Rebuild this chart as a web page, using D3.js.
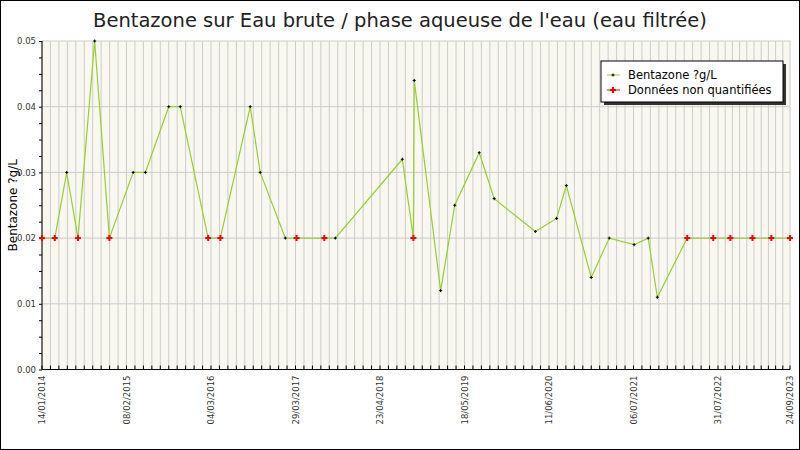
<!DOCTYPE html>
<html><head><meta charset="utf-8">
<script src="https://cdn.jsdelivr.net/npm/d3@7"></script>
<style>body{margin:0;background:#fff}svg{display:block}text{font-family:"DejaVu Sans",sans-serif}</style>
</head><body><svg id="c" width="800" height="450"></svg>
<script>
const dates = ["2014-01-14","2014-03-14","2014-05-08","2014-06-29","2014-09-14","2014-11-21","2015-03-11","2015-05-06","2015-08-22","2015-10-14","2016-02-20","2016-04-16","2016-09-01","2016-10-17","2017-02-10","2017-04-03","2017-08-09","2017-09-29","2018-08-04","2018-09-24","2018-09-28","2019-01-28","2019-04-03","2019-07-25","2019-10-02","2020-04-09","2020-07-16","2020-08-30","2020-12-23","2021-03-16","2021-07-09","2021-09-12","2021-10-24","2022-03-11","2022-07-09","2022-10-11","2023-02-17","2023-06-07","2023-09-24"];
const values = [0.02,0.02,0.03,0.02,0.05,0.02,0.03,0.03,0.04,0.04,0.02,0.02,0.04,0.03,0.02,0.02,0.02,0.02,0.032,0.02,0.044,0.012,0.025,0.033,0.026,0.021,0.023,0.028,0.014,0.02,0.019,0.02,0.011,0.02,0.02,0.02,0.02,0.02,0.02];
const nonQuant = [1,1,0,1,0,1,0,0,0,0,1,1,0,0,0,1,1,0,0,1,0,0,0,0,0,0,0,0,0,0,0,0,0,1,1,1,1,1,1];
const tickDates = ["2014-01-14","2015-02-08","2016-03-04","2017-03-29","2018-04-23","2019-05-18","2020-06-11","2021-07-06","2022-07-31","2023-09-24"];
const tickLabels = ["14/01/2014","08/02/2015","04/03/2016","29/03/2017","23/04/2018","18/05/2019","11/06/2020","06/07/2021","31/07/2022","24/09/2023"];
const yTicks = [0,0.01,0.02,0.03,0.04,0.05];
const title = "Bentazone sur Eau brute / phase aqueuse de l'eau (eau filtrée)";
const yLabel = "Bentazone ?g/L";
const legendLabels = ["Bentazone ?g/L","Données non quantifiées"];

const P = d3.timeParse("%Y-%m-%d");
const data = dates.map((d,i)=>({d:P(d),v:values[i],nq:nonQuant[i]}));
const tD = tickDates.map(P);
const L=42,R=790,T=41,B=369.5;
const x = d3.scaleTime().domain([tD[0],tD[8],tD[9]]).range([L,718,R]);
const y = d3.scaleLinear().domain([0,0.05]).range([B,T]);
const svg = d3.select("#c");
svg.append("rect").attr("x",0.5).attr("y",0.5).attr("width",799).attr("height",449).attr("fill","#fff").attr("stroke","#000");
svg.append("rect").attr("x",L).attr("y",T).attr("width",R-L).attr("height",B-T).attr("fill","#f8f8f0");
const minor=[];
for(let i=0;i<8;i++){for(let k=0;k<10;k++){minor.push(d3.timeDay.offset(tD[i],Math.round((tD[i+1]-tD[i])/864e5*k/10)));}}
for(let k=0;k<10;k++)minor.push(new Date(+tD[8]+(tD[9]-tD[8])*k/10));
minor.push(tD[9]);
svg.append("g").selectAll("line").data(minor).join("line")
 .attr("x1",d=>x(d)).attr("x2",d=>x(d)).attr("y1",T).attr("y2",B).attr("stroke","#ccc").attr("stroke-width",1);
svg.append("g").selectAll("line").data(yTicks).join("line")
 .attr("x1",L).attr("x2",R).attr("y1",d=>y(d)).attr("y2",d=>y(d)).attr("stroke","#ccc");
svg.append("g").selectAll("line").data(minor).join("line")
 .attr("x1",d=>x(d)).attr("x2",d=>x(d)).attr("y1",B-4).attr("y2",B).attr("stroke","#000");
const ya = d3.axisLeft(y).tickValues(d3.range(0,0.0501,0.0025)).tickSize(4).tickFormat(d=>{const r=Math.round(d*1000)/1000;return Math.abs(r*100-Math.round(r*100))<1e-9?d3.format(".2f")(d):"";});
const yg = svg.append("g").attr("transform",`translate(${L},0)`).call(ya);
yg.selectAll(".tick line").attr("x2",-3).attr("x1",0);
yg.selectAll("text").attr("font-size",8.5).attr("fill","#333").attr("x",-6);
yg.select(".domain").attr("d",`M0,${T}V${B}`);
svg.append("line").attr("x1",L).attr("x2",R).attr("y1",B).attr("y2",B).attr("stroke","#000");
svg.append("g").selectAll("text").data(tD).join("text")
 .attr("transform",(d)=>`translate(${x(d)+3},${B+6}) rotate(-90)`).attr("text-anchor","end")
 .attr("font-size",8.5).attr("fill","#333").text((d,i)=>tickLabels[i]);
const line = d3.line().x(d=>x(d.d)).y(d=>y(d.v));
svg.append("path").datum(data).attr("d",line).attr("fill","none").attr("stroke","#9acd32").attr("stroke-width",1.2);
const plus=(g,s,c,w)=>g.append("path").attr("d",`M${-s},0H${s}M0,${-s}V${s}`).attr("stroke",c).attr("stroke-width",w);
data.forEach(d=>{const g=svg.append("g").attr("transform",`translate(${x(d.d)},${y(d.v)})`);
 if(d.nq) plus(g,3,"#ff0000",2); else plus(g,1.5,"#000",1);});
svg.append("text").attr("x",400).attr("y",27).attr("text-anchor","middle").attr("font-size",19.5).attr("fill","#222").text(title);
svg.append("text").attr("transform",`translate(17,${(T+B)/2}) rotate(-90)`).attr("text-anchor","middle").attr("font-size",12).attr("fill","#000").text(yLabel);
const lg=svg.append("g");
lg.append("rect").attr("x",604).attr("y",64).attr("width",182).attr("height",41).attr("fill","#333");
lg.append("rect").attr("x",601).attr("y",61).attr("width",182).attr("height",41).attr("fill","#fff").attr("stroke","#000");
[0,1].forEach(i=>{const yy=75+i*15;
 lg.append("line").attr("x1",607).attr("x2",620).attr("y1",yy).attr("y2",yy).attr("stroke",i?"#ff0000":"#9acd32");
 const g=lg.append("g").attr("transform",`translate(613,${yy})`); i?plus(g,3,"#ff0000",2):plus(g,1.5,"#000",1);
 lg.append("text").attr("x",628).attr("y",yy+4).attr("font-size",11.5).text(legendLabels[i]);});
</script></body></html>
